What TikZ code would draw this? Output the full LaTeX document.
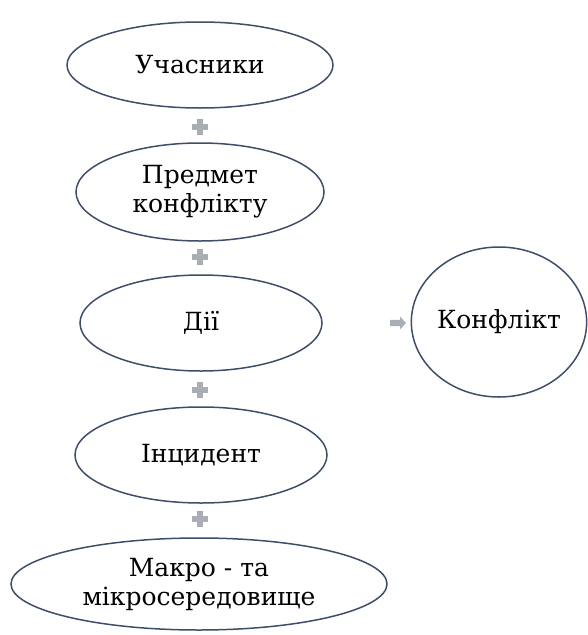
\documentclass[tikz,border=0pt]{standalone}
\usepackage{fontspec}
\newfontfamily\tnr{DejaVu Serif}
\usetikzlibrary{shapes.geometric}
\definecolor{edgecol}{HTML}{3E4E68}
\definecolor{signcol}{HTML}{A9ADB4}
\tikzset{
  oval/.style={ellipse, draw=edgecol, line width=1.5pt, inner sep=0pt, align=center,
    font=\tnr\fontsize{25}{29}\selectfont, text=black},
  plussign/.pic={\fill[signcol] (-8,-2.6) rectangle (8,2.6); \fill[signcol] (-2.6,-8) rectangle (2.6,8);},
  arrowsign/.pic={\fill[signcol] (-8,-3.2) -- (2,-3.2) -- (2,-6.5) -- (8,0) -- (2,6.5) -- (2,3.2) -- (-8,3.2) -- cycle;}
}
\begin{document}
\begin{tikzpicture}[x=1pt,y=-1pt]
\useasboundingbox (0,0) rectangle (587,635);
\node[oval, minimum width=266pt, minimum height=86pt] (a) at (200,65) {Учасники};
\node[oval, minimum width=248pt, minimum height=98pt] (b) at (200,192) {Предмет\\конфлікту};
\node[oval, minimum width=242pt, minimum height=96pt] (c) at (201,323) {Дії};
\node[oval, minimum width=252pt, minimum height=96pt] (d) at (201,455) {Інцидент};
\node[oval, minimum width=376pt, minimum height=92pt] (e) at (199,584) {Макро - та\\мікросередовище};
\node[oval, minimum width=172pt, minimum height=150pt] (k) at (499,322) {Конфлікт};
\pic at (200,127) {plussign};
\pic at (200,257) {plussign};
\pic at (200,390) {plussign};
\pic at (200,519) {plussign};
\pic at (398,323) {arrowsign};
\end{tikzpicture}
\end{document}
